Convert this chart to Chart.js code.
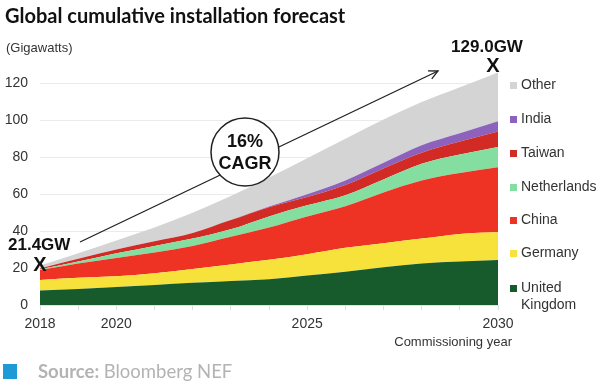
<!DOCTYPE html>
<html>
<head>
<meta charset="utf-8">
<script src="https://cdn.jsdelivr.net/npm/chart.js@4.4.1/dist/chart.umd.min.js"></script>
<style>
  html, body { margin: 0; padding: 0; background: #fff; }
  canvas { display: block; }
</style>
</head>
<body>
<canvas id="chart" width="600" height="386"></canvas>
<script>
// years on the x axis
const years = ['2018', '2019', '2020', '2021', '2022', '2023', '2024', '2025', '2026', '2027', '2028', '2029', '2030'];
const shownYears = ['2018', '2020', '2025', '2030'];
const yTicks = [0, 20, 40, 60, 80, 100, 120];

// GW added on top of the layer below (stacked)
const ukValues = [7.8, 8.7, 9.7, 10.8, 12, 13, 14, 16, 18, 20.5, 22.5, 23.5, 24.4];
const germanyValues = [5.8, 6.1, 5.9, 6.4, 7.5, 9, 10.5, 11.5, 13, 13, 13.5, 15, 15.2];
const chinaValues = [5.4, 7.7, 9.9, 11.3, 12.5, 15, 17.5, 20.5, 22.5, 27.5, 31.5, 33, 35];
const netherlandsValues = [0.3, 1, 2.5, 3.5, 4, 4, 6, 6, 6, 7, 9, 10, 11];
const taiwanValues = [0.5, 1.5, 2, 2.5, 3, 5, 5, 4.5, 5.5, 6, 6, 7, 8.4];
const indiaValues = [0, 0, 0, 0, 0, 0, 0.3, 1.5, 2.5, 3, 4, 4.5, 5.5];
const otherValues = [1.6, 3, 5, 7.5, 11, 13, 15.7, 19.5, 22.5, 23.5, 23.5, 25, 26.5];

const startLabel = '21.4GW';
const endLabel = '129.0GW';

const series = [
  { label: 'United Kingdom', data: ukValues, color: '#175a2b' },
  { label: 'Germany', data: germanyValues, color: '#f6e23b' },
  { label: 'China', data: chinaValues, color: '#ee3224' },
  { label: 'Netherlands', data: netherlandsValues, color: '#84dea0' },
  { label: 'Taiwan', data: taiwanValues, color: '#d22b26' },
  { label: 'India', data: indiaValues, color: '#8c62bc' },
  { label: 'Other', data: otherValues, color: '#d4d4d4' },
];

const datasets = series.map((s, i) => ({
  label: s.label,
  data: s.data,
  backgroundColor: s.color,
  borderColor: s.color,
  borderWidth: 0,
  pointRadius: 0,
  cubicInterpolationMode: 'monotone',
  fill: i === 0 ? 'origin' : '-1',
}));

// titles, legend, annotations
const decorations = {
  id: 'decorations',
  afterDraw(chart) {
    const ctx = chart.ctx;
    const x = chart.scales.x;
    const y = chart.scales.y;
    ctx.save();

    ctx.fillStyle = '#111';
    ctx.textBaseline = 'middle';
    ctx.textAlign = 'left';
    ctx.font = 'bold 20px Lato';
    ctx.fillText('Global cumulative installation forecast', 5, 17);

    ctx.fillStyle = '#333';
    ctx.font = '13px "Liberation Sans"';
    ctx.fillText('(Gigawatts)', 6, 48);

    ctx.textAlign = 'right';
    ctx.fillText('Commissioning year', 512, 342);

    // source line
    ctx.fillStyle = '#1e9bd7';
    ctx.fillRect(3, 364, 14, 15);
    ctx.textAlign = 'left';
    ctx.fillStyle = '#b3b3b3';
    ctx.font = 'bold 18.5px Lato';
    ctx.fillText('Source:', 38, 372);
    const w = ctx.measureText('Source: ').width;
    ctx.font = '18.5px Lato';
    ctx.fillText('Bloomberg NEF', 38 + w, 372);

    // legend, top to bottom
    const legendRows = [
      ['Other'], ['India'], ['Taiwan'], ['Netherlands'], ['China'], ['Germany'], ['United', 'Kingdom'],
    ];
    const rowY = [85, 119, 153, 187, 220, 253, 288];
    ctx.font = '14px "Liberation Sans"';
    legendRows.forEach((lines, i) => {
      const name = lines.join(' ');
      const s = series.find(d => d.label === name);
      ctx.fillStyle = s.color;
      ctx.fillRect(510, rowY[i] - 3, 7, 7);
      ctx.fillStyle = '#333';
      lines.forEach((t, j) => ctx.fillText(t, 521, rowY[i] + j * 17));
    });

    // growth arrow
    const ax0 = 80, ay0 = 242, ax1 = 438, ay1 = 71;
    ctx.strokeStyle = '#222';
    ctx.lineWidth = 1.3;
    ctx.beginPath();
    ctx.moveTo(ax0, ay0);
    ctx.lineTo(ax1, ay1);
    ctx.stroke();
    const ang = Math.atan2(ay1 - ay0, ax1 - ax0);
    ctx.beginPath();
    ctx.moveTo(ax1 - 10 * Math.cos(ang - 0.45), ay1 - 10 * Math.sin(ang - 0.45));
    ctx.lineTo(ax1, ay1);
    ctx.lineTo(ax1 - 10 * Math.cos(ang + 0.45), ay1 - 10 * Math.sin(ang + 0.45));
    ctx.stroke();

    // CAGR bubble
    ctx.beginPath();
    ctx.arc(245, 152, 34, 0, Math.PI * 2);
    ctx.fillStyle = '#fff';
    ctx.fill();
    ctx.lineWidth = 1.5;
    ctx.stroke();
    ctx.fillStyle = '#111';
    ctx.textAlign = 'center';
    ctx.font = 'bold 18px "Liberation Sans"';
    ctx.fillText('16%', 245, 142);
    ctx.fillText('CAGR', 245, 164);

    // start / end markers
    const totals = years.map((_, i) => series.reduce((a, s) => a + s.data[i], 0));
    const px0 = x.getPixelForValue(0), py0 = y.getPixelForValue(totals[0]);
    const n = years.length - 1;
    const px1 = x.getPixelForValue(n), py1 = y.getPixelForValue(totals[n]);
    ctx.font = 'bold 20px "Liberation Sans"';
    ctx.fillText('X', px0, py0);
    ctx.fillText('X', px1 - 5, py1 - 6);
    ctx.font = 'bold 17px "Liberation Sans"';
    ctx.textAlign = 'left';
    ctx.fillText(startLabel, 8, 245);
    ctx.textAlign = 'center';
    ctx.fillText(endLabel, 487, 47);

    ctx.restore();
  },
};

new Chart(document.getElementById('chart'), {
  type: 'line',
  data: { labels: years, datasets },
  options: {
    responsive: false,
    animation: false,
    layout: { padding: { left: 0, right: 102, top: 65, bottom: 51 } },
    plugins: {
      legend: { display: false },
      tooltip: { enabled: false },
      filler: { propagate: false },
    },
    scales: {
      x: {
        offset: false,
        grid: { drawOnChartArea: false, tickLength: 5, color: '#dedede' },
        border: { display: true, color: '#e2e2e2' },
        ticks: {
          autoSkip: false,
          maxRotation: 0,
          padding: 6,
          color: '#333',
          font: { family: 'Liberation Sans', size: 14 },
          callback(v) {
            const lbl = this.getLabelForValue(v);
            return shownYears.includes(lbl) ? lbl : '';
          },
        },
        afterFit(scale) { scale.height = 30; },
      },
      y: {
        stacked: true,
        min: 0,
        max: 130,
        afterBuildTicks(scale) {
          scale.ticks = yTicks.map(v => ({ value: v }));
        },
        grid: { color: '#ebebeb', drawTicks: false },
        border: { display: false },
        ticks: {
          padding: 12,
          color: '#333',
          font: { family: 'Liberation Sans', size: 14 },
        },
        afterFit(scale) { scale.width = 40; },
      },
    },
  },
  plugins: [decorations],
});
</script>
</body>
</html>
